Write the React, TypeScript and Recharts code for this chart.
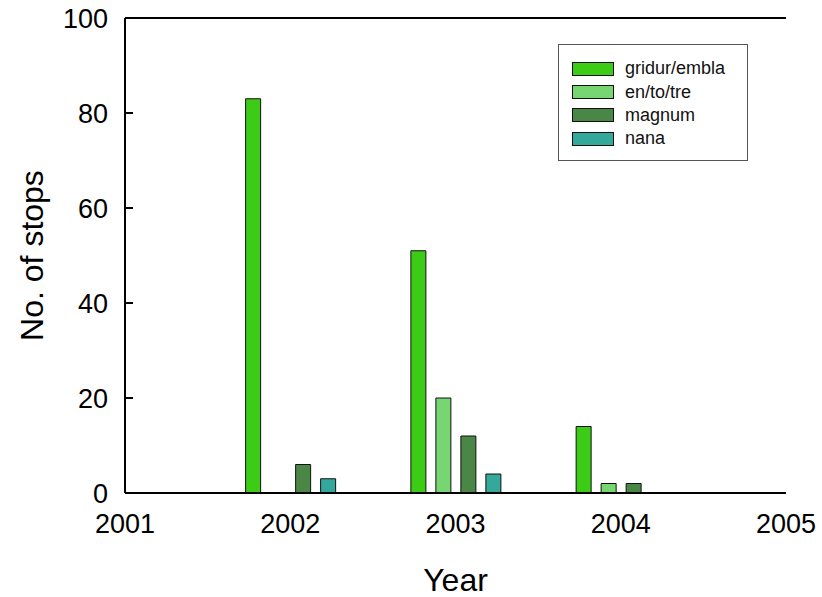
import React from "react";
import {
  Bar,
  BarChart,
  Label,
  Legend,
  ReferenceLine,
  XAxis,
  YAxis,
} from "recharts";

const years = [2002, 2003, 2004];
const gridurEmbla = [83, 51, 14];
const enToTre = [null, 20, 2];
const magnum = [6, 12, 2];
const nana = [3, 4, null];

const xTicks = [2001, 2002, 2003, 2004, 2005];
const yTicks = [0, 20, 40, 60, 80, 100];

const SERIES = [
  { key: "gridur", name: "gridur/embla", color: "#3ccc16" },
  { key: "entotre", name: "en/to/tre", color: "#77d672" },
  { key: "magnum", name: "magnum", color: "#4a8646" },
  { key: "nana", name: "nana", color: "#34a89a" },
];

const data = years.map((year, i) => ({
  year,
  gridur: gridurEmbla[i],
  entotre: enToTre[i],
  magnum: magnum[i],
  nana: nana[i],
}));

const FONT = "'Liberation Sans', Arial, Helvetica, sans-serif";

function LegendBox({ payload }: any) {
  // keep the series order, not the alphabetical one
  const order = SERIES.map((s) => s.name);
  const items = [...(payload || [])].sort(
    (a: any, b: any) => order.indexOf(a.value) - order.indexOf(b.value)
  );
  return (
    <div
      style={{
        boxSizing: "border-box",
        width: 190,
        height: 117,
        border: "1px solid #555",
        background: "#fff",
        paddingTop: 12,
        paddingLeft: 13,
        fontFamily: FONT,
        fontSize: 18,
        color: "#111",
      }}
    >
      {items.map((entry: any) => (
        <div
          key={entry.value}
          style={{ display: "flex", alignItems: "center", height: 23.4 }}
        >
          <span
            style={{
              display: "inline-block",
              boxSizing: "border-box",
              width: 42,
              height: 14,
              background: entry.color,
              border: "1px solid #111",
              marginRight: 11,
            }}
          />
          {entry.value}
        </div>
      ))}
    </div>
  );
}

export default function App() {
  return (
    <div style={{ position: "absolute", left: 0, top: 0, background: "#fff" }}>
      <BarChart
        width={822}
        height={597}
        data={data}
        margin={{ top: 18, right: 36, bottom: 0, left: 0 }}
        barGap={10}
      >
        <XAxis
          dataKey="year"
          type="number"
          domain={[2001, 2005]}
          ticks={xTicks}
          height={104}
          tickLine={false}
          tickSize={0}
          tickMargin={21}
          axisLine={{ stroke: "#000", strokeWidth: 2 }}
          tick={{ fill: "#000", fontSize: 27, fontFamily: FONT }}
        >
          <Label
            content={({ viewBox }: any) => (
              <text
                x={viewBox.x + viewBox.width / 2}
                y={591}
                textAnchor="middle"
                fill="#000"
                fontSize={32}
                fontFamily={FONT}
              >
                Year
              </text>
            )}
          />
        </XAxis>
        <YAxis
          yAxisId="left"
          domain={[0, 100]}
          ticks={yTicks}
          width={125}
          tickSize={-8}
          tickMargin={25}
          axisLine={{ stroke: "#000", strokeWidth: 2 }}
          tickLine={{ stroke: "#000", strokeWidth: 2 }}
          tick={{ fill: "#000", fontSize: 27, fontFamily: FONT }}
        >
          <Label
            content={({ viewBox }: any) => {
              const cx = 32;
              const cy = viewBox.y + viewBox.height / 2;
              return (
                <text
                  x={cx}
                  y={cy}
                  transform={`rotate(-90 ${cx} ${cy})`}
                  textAnchor="middle"
                  dominantBaseline="central"
                  fill="#000"
                  fontSize={32}
                  fontFamily={FONT}
                >
                  No. of stops
                </text>
              );
            }}
          />
        </YAxis>
        <YAxis
          yAxisId="right"
          orientation="right"
          domain={[0, 100]}
          ticks={yTicks}
          width={0}
          tickSize={-8}
          tickFormatter={() => ""}
          axisLine={{ stroke: "#000", strokeWidth: 2 }}
          tickLine={{ stroke: "#000", strokeWidth: 2 }}
        />
        <ReferenceLine
          yAxisId="left"
          y={100}
          stroke="#000"
          strokeWidth={2}
        />
        <Legend
          layout="horizontal"
          verticalAlign="middle"
          align="center"
          content={<LegendBox />}
          wrapperStyle={{ left: 558, top: 44, width: 190, height: 117 }}
        />
        {SERIES.map((s) => (
          <Bar
            key={s.key}
            yAxisId="left"
            dataKey={s.key}
            name={s.name}
            fill={s.color}
            stroke="#111"
            strokeWidth={1}
            barSize={15}
            isAnimationActive={false}
          />
        ))}
      </BarChart>
    </div>
  );
}
